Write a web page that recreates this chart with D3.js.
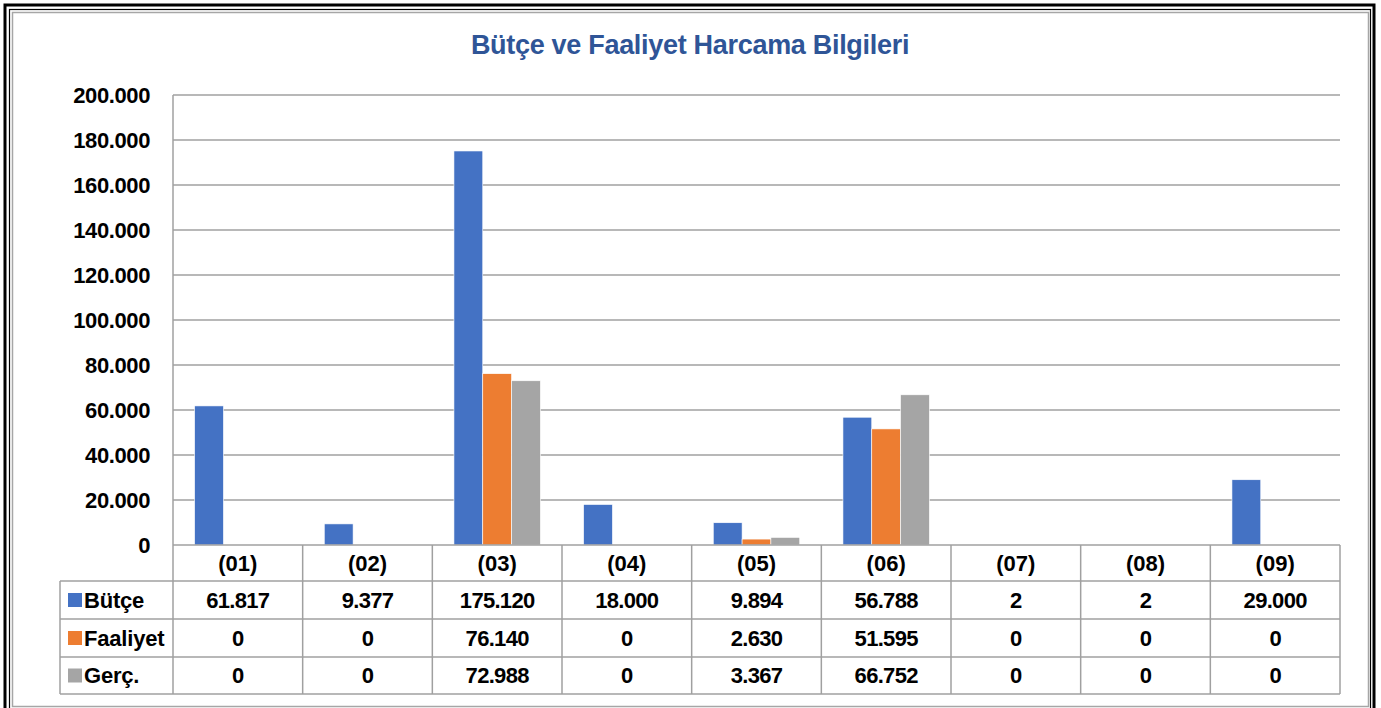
<!DOCTYPE html>
<html>
<head>
<meta charset="utf-8">
<script src="https://cdn.jsdelivr.net/npm/d3@7"></script>
<style>
  html, body { margin: 0; padding: 0; background: #fff; }
  svg { display: block; }
  text { font-family: "Liberation Sans", Arial, sans-serif; }
</style>
</head>
<body>
<div id="chart"></div>
<script>
// chart data
const categories = ['(01)', '(02)', '(03)', '(04)', '(05)', '(06)', '(07)', '(08)', '(09)'];
const seriesNames = ['Bütçe', 'Faaliyet', 'Gerç.'];
const butce = [61817, 9377, 175120, 18000, 9894, 56788, 2, 2, 29000];
const faaliyet = [0, 0, 76140, 0, 2630, 51595, 0, 0, 0];
const gerc = [0, 0, 72988, 0, 3367, 66752, 0, 0, 0];
const yTicks = [0, 20000, 40000, 60000, 80000, 100000, 120000, 140000, 160000, 180000, 200000];
const colors = ['#4472c4', '#ed7d31', '#a5a5a5'];

const series = [butce, faaliyet, gerc];

const width = 1381, height = 708;
const plotLeft = 173, plotRight = 1340, plotTop = 95, zero = 545;
const rowH = [545, 581, 619, 657, 694];
const legendLeft = 60;

// turkish number format
const tr = d3.formatLocale({ decimal: ',', thousands: '.', grouping: [3], currency: ['', ' TL'] });
const fmt = tr.format(',d');

const svg = d3.select('#chart').append('svg')
  .attr('width', width)
  .attr('height', height);

// outer frame
svg.append('rect').attr('x', 5).attr('y', 5).attr('width', 1369).attr('height', 710)
  .attr('fill', 'none').attr('stroke', '#000').attr('stroke-width', 3);
svg.append('rect').attr('x', 9.5).attr('y', 9.5).attr('width', 1361).attr('height', 710)
  .attr('fill', 'none').attr('stroke', '#000').attr('stroke-width', 1.2);
svg.append('rect').attr('x', 12.5).attr('y', 12.5).attr('width', 1356).attr('height', 694)
  .attr('fill', '#fff').attr('stroke', '#a6a6a6').attr('stroke-width', 1.5);

// title
svg.append('text')
  .attr('x', 690).attr('y', 54)
  .attr('text-anchor', 'middle')
  .attr('font-size', 27).attr('font-weight', 'bold')
  .attr('letter-spacing', -0.3)
  .attr('fill', '#2f5597')
  .text('Bütçe ve Faaliyet Harcama Bilgileri');

const x = d3.scaleBand().domain(categories).range([plotLeft, plotRight]).paddingInner(0).paddingOuter(0);
const bw = x.bandwidth() / 4.5;
const x1 = d3.scaleBand().domain(seriesNames).range([bw * 0.75, bw * 3.75]).padding(0);
const y = d3.scaleLinear().domain([0, 200000]).range([zero, plotTop]);

// gridlines
svg.append('g').selectAll('line').data(yTicks.slice(1)).enter().append('line')
  .attr('x1', plotLeft).attr('x2', plotRight)
  .attr('y1', d => y(d)).attr('y2', d => y(d))
  .attr('stroke', '#a0a0a0').attr('stroke-width', 1.3);

// y axis labels
const yAxis = d3.axisLeft(y).tickValues(yTicks).tickFormat(fmt).tickSize(0).tickPadding(0);
const ya = svg.append('g').attr('transform', `translate(150,0)`).call(yAxis);
ya.select('.domain').remove();
ya.selectAll('text')
  .attr('font-size', 22).attr('font-weight', 'bold').attr('letter-spacing', -0.4)
  .attr('font-family', '"Liberation Sans", Arial, sans-serif')
  .attr('fill', '#000').attr('dy', '0.35em');

// bars
const groups = svg.append('g').selectAll('g').data(categories).enter().append('g')
  .attr('transform', d => `translate(${x(d)},0)`);
groups.selectAll('rect')
  .data((d, i) => seriesNames.map((s, j) => ({ s, v: series[j][i], c: colors[j] })))
  .enter().append('rect')
  .attr('x', d => x1(d.s))
  .attr('width', x1.bandwidth())
  .attr('y', d => y(d.v))
  .attr('height', d => zero - y(d.v))
  .attr('fill', d => d.c)
  .attr('stroke', '#fff').attr('stroke-width', 0.6);

// table lines
const tbl = svg.append('g').attr('stroke', '#a0a0a0').attr('stroke-width', 1.5);
// left axis line of plot
tbl.append('line').attr('x1', plotLeft).attr('x2', plotLeft).attr('y1', plotTop).attr('y2', rowH[4]);
tbl.append('line').attr('x1', plotLeft).attr('x2', plotRight).attr('y1', zero).attr('y2', zero);
rowH.slice(1).forEach(h => {
  tbl.append('line').attr('x1', legendLeft).attr('x2', plotRight).attr('y1', h).attr('y2', h);
});
tbl.append('line').attr('x1', legendLeft).attr('x2', legendLeft).attr('y1', rowH[1]).attr('y2', rowH[4]);
categories.forEach(c => {
  tbl.append('line').attr('x1', x(c) + x.bandwidth()).attr('x2', x(c) + x.bandwidth())
    .attr('y1', zero).attr('y2', rowH[4]);
});

// category header
svg.append('g').selectAll('text').data(categories).enter().append('text')
  .attr('x', d => x(d) + x.bandwidth() / 2)
  .attr('y', (rowH[0] + rowH[1]) / 2)
  .attr('dy', '0.36em')
  .attr('text-anchor', 'middle')
  .attr('font-size', 22).attr('font-weight', 'bold').attr('letter-spacing', 0)
  .text(d => d);

// table rows
seriesNames.forEach((s, j) => {
  const cy = (rowH[j + 1] + rowH[j + 2]) / 2;
  svg.append('rect').attr('x', 68).attr('y', cy - 7).attr('width', 14).attr('height', 14)
    .attr('fill', colors[j]);
  svg.append('text').attr('x', 84).attr('y', cy).attr('dy', '0.36em')
    .attr('font-size', 22).attr('font-weight', 'bold').attr('letter-spacing', -0.2)
    .text(s);
  svg.append('g').selectAll('text').data(series[j]).enter().append('text')
    .attr('x', (d, i) => x(categories[i]) + x.bandwidth() / 2)
    .attr('y', cy).attr('dy', '0.36em')
    .attr('text-anchor', 'middle')
    .attr('font-size', 22).attr('font-weight', 'bold').attr('letter-spacing', -0.7)
    .text(d => fmt(d));
});
</script>
</body>
</html>
